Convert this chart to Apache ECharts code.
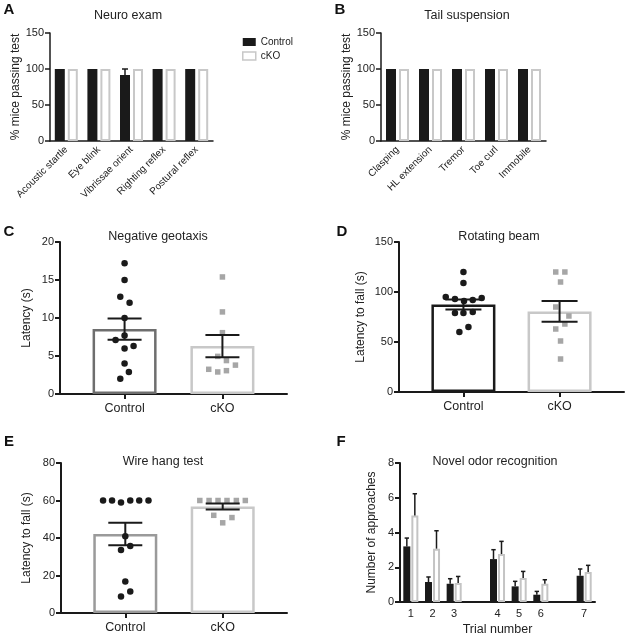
<!DOCTYPE html>
<html><head><meta charset="utf-8">
<script src="https://cdn.jsdelivr.net/npm/echarts@6/dist/echarts.min.js"></script>
<style>html,body{margin:0;padding:0;background:#fff}#c{width:625px;height:639px}</style>
</head><body><div id="c"></div>
<script>
// ---------- DATA ----------
// Panel A: Neuro exam
const neuroCats = ['Acoustic startle','Eye blink','Vibrissae orient','Righting reflex','Postural reflex'];
const neuroControl = [100,100,91.7,100,100];
const neuroControlSem = [0,0,8.3,0,0];
const neuroCKO = [100,100,100,100,100];
// Panel B: Tail suspension
const tailCats = ['Clasping','HL extension','Tremor','Toe curl','Immobile'];
const tailControl = [100,100,100,100,100];
const tailCKO = [100,100,100,100,100];
// Groups for C, D, E
const groups = ['Control','cKO'];
// Panel C: Negative geotaxis
const geoMean = [8.55, 6.3];
const geoSem = [1.4, 1.45];
const geoControl = [17.2,15.0,12.8,12.0,10.0,7.7,7.1,6.0,6.3,4.0,2.9,2.0];
const geoControlJitter = [0,0,-0.044,0.051,0,0,-0.092,0,0.092,0,0.044,-0.044];
const geoCKO = [15.4,10.8,8.07,4.95,4.4,3.8,3.25,2.9,3.07];
const geoCKOJitter = [0,0,0,-0.048,0.041,0.133,-0.14,-0.048,0.041];
// Panel D: Rotating beam
const beamMean = [87.6, 80.6];
const beamSem = [5.0, 10.3];
const beamControl = [120,109,95,93,91,92,94,79,79,80,60,65];
const beamControlJitter = [0,0,-0.184,-0.088,0.006,0.097,0.19,-0.088,0,0.097,-0.042,0.052];
const beamCKO = [120,120,110,85,76,68,63,51,33];
const beamCKOJitter = [-0.04,0.055,0.01,-0.04,0.097,0.055,-0.04,0.01,0.01];
// Panel E: Wire hang test
const wireMean = [42.2, 56.8];
const wireSem = [6.0, 1.6];
const wireControl = [60,60,59,60,60,60,41,33.6,35.7,16.8,8.8,11.5];
const wireControlJitter = [-0.228,-0.136,-0.044,0.051,0.143,0.238,0,-0.044,0.051,0,-0.044,0.051];
const wireCKO = [60,60,60,60,60,60,52.1,50.9,48.1];
const wireCKOJitter = [-0.235,-0.14,-0.048,0.044,0.14,0.232,-0.092,0.095,0];
// Panel F: Novel odor recognition (gaps between trial blocks)
const odorCats = ['1','2','3','','4','5','6','','7'];
const odorControl = [3.2,1.15,1.05,null,2.47,0.9,0.42,null,1.51];
const odorControlSem = [0.48,0.29,0.29,null,0.54,0.29,0.19,null,0.39];
const odorCKO = [4.98,3.07,1.09,null,2.76,1.38,1.05,null,1.73];
const odorCKOSem = [1.25,1.03,0.38,null,0.73,0.38,0.23,null,0.38];

// ---------- STYLE ----------
const FONT = "'Liberation Sans', Arial, sans-serif";
const TXT = '#222';
const BLACK = '#1a1a1a';
const LIGHT = '#c8c8c8';

function yAx(gi, min, max, interval, name, gap, lw) {
  return {
    type: 'value', gridIndex: gi, min, max, interval,
    name, nameLocation: 'middle', nameGap: gap,
    nameTextStyle: { fontFamily: FONT, fontSize: 12, color: TXT },
    axisLine: { show: true, onZero: false, lineStyle: { color: BLACK, width: lw } },
    axisTick: { show: true, length: 5, lineStyle: { color: BLACK, width: lw } },
    axisLabel: { fontFamily: FONT, fontSize: 11, color: TXT, margin: 6 },
    splitLine: { show: false }
  };
}
function catAx(gi, data) {
  return {
    type: 'category', gridIndex: gi, data,
    axisLine: { lineStyle: { color: BLACK, width: 1.5 } },
    axisTick: { alignWithLabel: true, length: 4, lineStyle: { color: BLACK, width: 1.5 } },
    axisLabel: { interval: 0, rotate: 45, fontFamily: FONT, fontSize: 10, color: TXT, margin: 7 }
  };
}
function grpAx(gi, min, max) {
  return {
    type: 'value', gridIndex: gi, min, max,
    axisLine: { show: true, onZero: false, lineStyle: { color: BLACK, width: 2 } },
    axisTick: { show: true, customValues: [0, 1], length: 5, lineStyle: { color: BLACK, width: 2 } },
    axisLabel: { customValues: [0, 1], formatter: v => groups[Math.round(v)], fontFamily: FONT, fontSize: 12.5, color: TXT, margin: 8 },
    splitLine: { show: false }
  };
}
function errSeries(xi, yi, data, capHalf, upOnly, offPx, lw) {
  return {
    type: 'custom', xAxisIndex: xi, yAxisIndex: yi, z: 5, silent: true,
    data,
    renderItem: (params, api) => {
      const x = api.value(0), m = api.value(1), s = api.value(2);
      if (isNaN(m) || isNaN(s) || s === 0) return;
      const t = api.coord([x, m + s]);
      const b = api.coord([x, upOnly ? m : m - s]);
      const cx = t[0] + offPx;
      const st = { stroke: BLACK, lineWidth: lw };
      const ch = [
        { type: 'line', shape: { x1: cx, y1: t[1], x2: cx, y2: b[1] }, style: st },
        { type: 'line', shape: { x1: cx - capHalf, y1: t[1], x2: cx + capHalf, y2: t[1] }, style: st }
      ];
      if (!upOnly) ch.push({ type: 'line', shape: { x1: cx - capHalf, y1: b[1], x2: cx + capHalf, y2: b[1] }, style: st });
      return { type: 'group', children: ch };
    }
  };
}
function groupBars(xi, yi, means, ctrlBorder, ckoBorder) {
  return {
    type: 'bar', name: 'bars' + xi, xAxisIndex: xi, yAxisIndex: yi, barWidth: 64, silent: true, z: 1,
    data: means.map((m, i) => ({
      value: [i, m],
      itemStyle: { color: '#fff', borderColor: i === 0 ? ctrlBorder : ckoBorder, borderWidth: 2.5 }
    }))
  };
}
function dots(xi, yi, vals, jit, base, sym, color, size) {
  return {
    type: 'scatter', xAxisIndex: xi, yAxisIndex: yi, symbol: sym, symbolSize: size, silent: true, z: 3,
    itemStyle: { color, opacity: 1 },
    data: vals.map((v, i) => [base + jit[i], v])
  };
}
const idx = a => a.map((v, i) => [i, v]);
const withSem = (m, s) => m.map((v, i) => [i, v == null ? NaN : v, s[i] == null ? NaN : s[i]]);

const chart = echarts.init(document.getElementById('c'), null, { renderer: 'canvas' });

const grids = [
  { left: 50, top: 33, width: 163, height: 108 },   // A
  { left: 381, top: 33, width: 165, height: 108 },  // B
  { left: 60, top: 242, width: 227, height: 152 },  // C
  { left: 399, top: 242, width: 225, height: 150 }, // D
  { left: 61, top: 463, width: 226, height: 150 },  // E
  { left: 400, top: 463, width: 195, height: 139 }  // F
];

const option = {
  animation: false,
  backgroundColor: '#fff',
  grid: grids.map(g => Object.assign({ containLabel: false }, g)),
  legend: {
    left: 237, top: 32, orient: 'vertical', itemWidth: 13, itemHeight: 8, itemGap: 4,
    selectedMode: false,
    textStyle: { fontFamily: FONT, fontSize: 10, color: TXT },
    data: [
      { name: 'Control', icon: 'rect', itemStyle: { color: BLACK } },
      { name: 'cKO', icon: 'rect', itemStyle: { color: '#fff', borderColor: LIGHT, borderWidth: 1.5 } }
    ]
  },
  xAxis: [
    catAx(0, neuroCats),
    catAx(1, tailCats),
    grpAx(2, -0.66, 1.66),
    grpAx(3, -0.67, 1.67),
    grpAx(4, -0.66, 1.66),
    {
      type: 'category', gridIndex: 5, data: odorCats,
      name: 'Trial number', nameLocation: 'middle', nameGap: 21,
      nameTextStyle: { fontFamily: FONT, fontSize: 12.5, color: TXT },
      axisLine: { lineStyle: { color: BLACK, width: 2 } },
      axisTick: { alignWithLabel: true, interval: 0, length: 4, lineStyle: { color: BLACK, width: 2 } },
      axisLabel: { interval: 0, fontFamily: FONT, fontSize: 11, color: TXT, margin: 6 }
    }
  ],
  yAxis: [
    yAx(0, 0, 150, 50, '% mice passing test', 22, 1.5),
    yAx(1, 0, 150, 50, '% mice passing test', 17, 1.5),
    yAx(2, 0, 20, 5, 'Latency (s)', 27, 2),
    yAx(3, 0, 150, 50, 'Latency to fall (s)', 32, 2),
    yAx(4, 0, 80, 20, 'Latency to fall (s)', 28, 2),
    yAx(5, 0, 8, 2, 'Number of approaches', 22, 2)
  ],
  series: [
    // A
    { type: 'bar', name: 'Control', xAxisIndex: 0, yAxisIndex: 0, data: neuroControl, barWidth: 10, barGap: '30%', itemStyle: { color: BLACK } },
    { type: 'bar', name: 'cKO', xAxisIndex: 0, yAxisIndex: 0, data: neuroCKO, barWidth: 10, barGap: '30%', itemStyle: { color: '#fff', borderColor: LIGHT, borderWidth: 2 } },
    errSeries(0, 0, withSem(neuroControl, neuroControlSem), 3, true, -6.5, 1.5),
    // B
    { type: 'bar', name: 'Control', xAxisIndex: 1, yAxisIndex: 1, data: tailControl, barWidth: 10, barGap: '30%', itemStyle: { color: BLACK } },
    { type: 'bar', name: 'cKO', xAxisIndex: 1, yAxisIndex: 1, data: tailCKO, barWidth: 10, barGap: '30%', itemStyle: { color: '#fff', borderColor: LIGHT, borderWidth: 2 } },
    // C
    groupBars(2, 2, geoMean, '#6e6e6e', LIGHT),
    dots(2, 2, geoControl, geoControlJitter, 0, 'circle', BLACK, 6.5),
    dots(2, 2, geoCKO, geoCKOJitter, 1, 'rect', '#a6a6a6', 5.5),
    errSeries(2, 2, idx(geoMean).map((d, i) => [d[0], d[1], geoSem[i]]), 17, false, 0, 2),
    // D
    groupBars(3, 3, beamMean, BLACK, LIGHT),
    dots(3, 3, beamControl, beamControlJitter, 0, 'circle', BLACK, 6.5),
    dots(3, 3, beamCKO, beamCKOJitter, 1, 'rect', '#a6a6a6', 5.5),
    errSeries(3, 3, idx(beamMean).map((d, i) => [d[0], d[1], beamSem[i]]), 18, false, 0, 2),
    // E
    groupBars(4, 4, wireMean, '#9a9a9a', LIGHT),
    dots(4, 4, wireControl, wireControlJitter, 0, 'circle', BLACK, 6.5),
    dots(4, 4, wireCKO, wireCKOJitter, 1, 'rect', '#a6a6a6', 5.5),
    errSeries(4, 4, idx(wireMean).map((d, i) => [d[0], d[1], wireSem[i]]), 17, false, 0, 2),
    // F
    { type: 'bar', name: 'F-Control', xAxisIndex: 5, yAxisIndex: 5, data: odorControl, barWidth: 7, barGap: '15%', itemStyle: { color: BLACK } },
    { type: 'bar', name: 'F-cKO', xAxisIndex: 5, yAxisIndex: 5, data: odorCKO, barWidth: 7, barGap: '15%', itemStyle: { color: '#fff', borderColor: '#c4c4c4', borderWidth: 2 } },
    errSeries(5, 5, withSem(odorControl, odorControlSem), 2.2, true, -4, 1.5),
    errSeries(5, 5, withSem(odorCKO, odorCKOSem), 2.2, true, 4, 1.5)
  ],
  graphic: [
    ['A', 9, 10], ['B', 340, 10], ['C', 9, 232], ['D', 342, 232], ['E', 9, 442], ['F', 341, 442]
  ].map(([t, x, y]) => ({
    type: 'text', x, y, style: { text: t, font: 'bold 15px ' + FONT, fill: '#111', textAlign: 'center', textVerticalAlign: 'middle' }
  })).concat([
    ['Neuro exam', 128, 16], ['Tail suspension', 467, 16], ['Negative geotaxis', 158, 237],
    ['Rotating beam', 499, 237], ['Wire hang test', 163, 462], ['Novel odor recognition', 495, 462]
  ].map(([t, x, y]) => ({
    type: 'text', x, y, style: { text: t, font: '12.5px ' + FONT, fill: TXT, textAlign: 'center', textVerticalAlign: 'middle' }
  })))
};
chart.setOption(option);
</script>
</body></html>
